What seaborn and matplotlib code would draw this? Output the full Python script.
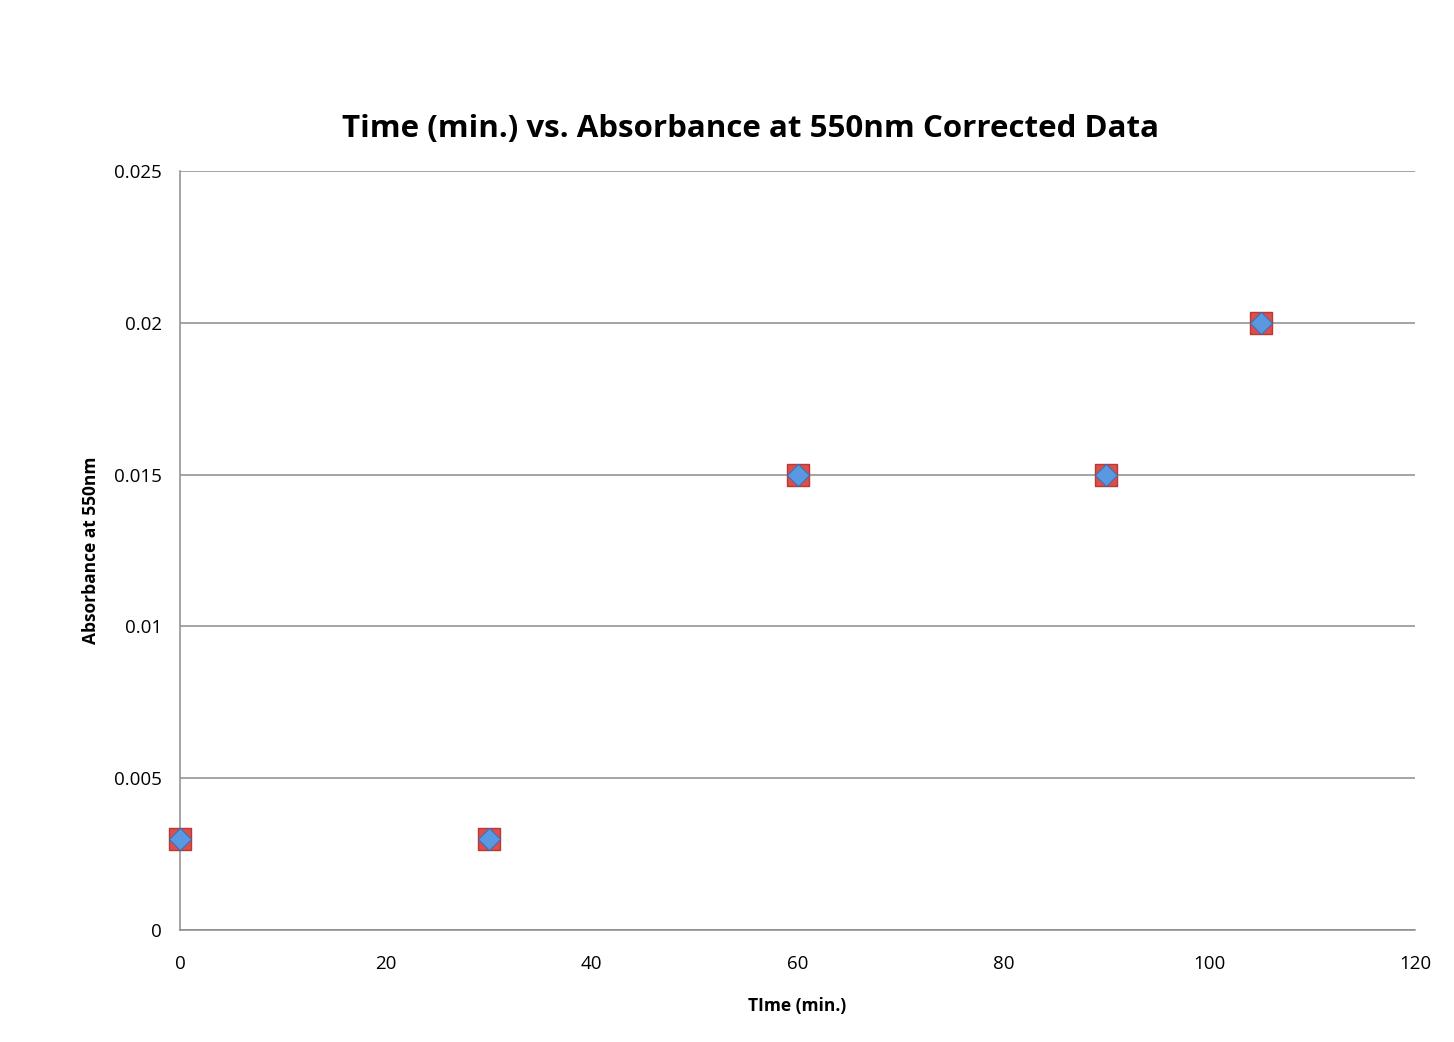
import numpy as np
import pandas as pd
import matplotlib
matplotlib.use("Agg")
import matplotlib.pyplot as plt
import seaborn as sns

# data
time_min = [0, 30, 60, 90, 105]
absorbance_a = [0.003, 0.003, 0.015, 0.015, 0.02]
absorbance_b = [0.003, 0.003, 0.015, 0.015, 0.02]

x_ticks = [0, 20, 40, 60, 80, 100, 120]
y_ticks = [0, 0.005, 0.01, 0.015, 0.02, 0.025]
y_tick_labels = ["0", "0.005", "0.01", "0.015", "0.02", "0.025"]

df = pd.DataFrame({"Time": time_min, "A": absorbance_a, "B": absorbance_b})

sns.set_style("white")
plt.rcParams["font.family"] = ["Open Sans", "DejaVu Sans"]

fig = plt.figure(figsize=(14.54, 10.42), dpi=100)
ax = fig.add_axes([0.1238, 0.1075, 0.8494, 0.7284])

# two overlapping series: red squares under blue diamonds
sns.scatterplot(data=df, x="Time", y="A", ax=ax, marker="s", s=235,
                color="#DD4F4B", edgecolor="#B83A37", linewidth=1.0,
                zorder=6, clip_on=False)
sns.scatterplot(data=df, x="Time", y="B", ax=ax, marker="D", s=128,
                color="#5A98E2", edgecolor="#3C70B5", linewidth=0.8,
                zorder=7, clip_on=False)

ax.set_xlim(0, 120)
ax.set_ylim(0, 0.025)
ax.set_xticks(x_ticks)
ax.set_yticks(y_ticks)
ax.set_yticklabels(y_tick_labels)

ax.yaxis.grid(True, color="#8c8c8c", linewidth=1.1)
ax.xaxis.grid(False)
ax.set_axisbelow(True)
for side in ["top", "right"]:
    ax.spines[side].set_visible(False)
for side in ["left", "bottom"]:
    ax.spines[side].set_color("#8c8c8c")
    ax.spines[side].set_linewidth(1.1)

ax.tick_params(axis="both", which="major", direction="out", length=4,
               width=1.1, color="#8c8c8c", labelsize=13.5, labelcolor="black")
ax.tick_params(axis="x", pad=14)
ax.tick_params(axis="y", pad=9)

ax.set_xlabel("TIme (min.)", fontsize=12.5, fontweight="bold", labelpad=17,
              color="black")
ax.set_ylabel("Absorbance at 550nm", fontsize=12.5, fontweight="bold",
              labelpad=10, color="black")
fig.text(0.516, 1 - 129 / 1042, "Time (min.) vs. Absorbance at 550nm Corrected Data",
         fontsize=22.5, fontweight="bold", ha="center", va="center", color="black")

fig.savefig("out.png", dpi=100)
